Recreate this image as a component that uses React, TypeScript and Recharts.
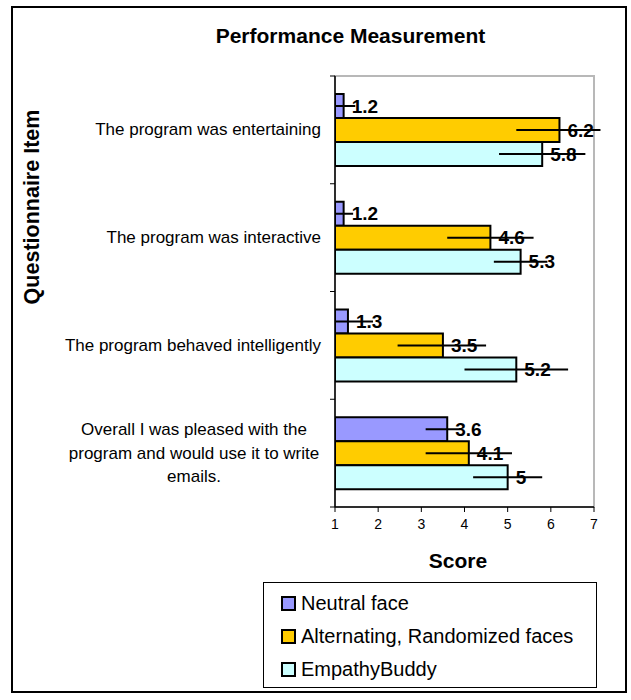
import { BarChart, Bar, XAxis, YAxis, ErrorBar, LabelList, ReferenceArea, Label } from 'recharts';

const FONT = "'Liberation Sans', Arial, sans-serif";

// categories, top to bottom
const categories = [
  'The program was entertaining',
  'The program was interactive',
  'The program behaved intelligently',
  'Overall I was pleased with the program and would use it to write emails.',
];
const categoryLines = [
  ['The program was entertaining'],
  ['The program was interactive'],
  ['The program behaved intelligently'],
  ['Overall I was pleased with the', 'program and would use it to write', 'emails.'],
];

const neutralFace = [1.2, 1.2, 1.3, 3.6];
const alternatingFaces = [6.2, 4.6, 3.5, 4.1];
const empathyBuddy = [5.8, 5.3, 5.2, 5];

// [minus, plus]
const neutralErr = [[0.2, 0.27], [0.2, 0.22], [0.3, 0.58], [0.5, 0.3]];
const alternatingErr = [[1, 0.95], [1, 1], [1.05, 1], [1, 1]];
const empathyErr = [[1, 1], [0.62, 0.62], [1.2, 1.2], [0.8, 0.8]];

const xTicks = [1, 2, 3, 4, 5, 6, 7];

const seriesNames = ['Neutral face', 'Alternating, Randomized faces', 'EmpathyBuddy'];
const seriesColors = ['#9999FF', '#FFCC00', '#CCFFFF'];

const data = categories.map((name, i) => ({
  name,
  neutral: neutralFace[i],
  neutralErr: neutralErr[i],
  alternating: alternatingFaces[i],
  alternatingErr: alternatingErr[i],
  empathy: empathyBuddy[i],
  empathyErr: empathyErr[i],
}));

const W = 631;
const H = 700;
const margin = { top: 76, right: 37, bottom: 163, left: 0 };
const Y_AXIS_W = 335;
const X_AXIS_H = 30;
const bandSize = (H - margin.top - margin.bottom - X_AXIS_H) / categories.length;

const CategoryTick = (props: any) => {
  const { x, y, index } = props;
  const lines = categoryLines[index] || [props.payload.value];
  const axisX = margin.left + Y_AXIS_W;
  const lineH = 23.3;
  return (
    <g>
      <line x1={axisX - 5} x2={axisX} y1={y - bandSize / 2} y2={y - bandSize / 2} stroke="#000" strokeWidth={1} />
      {index === categories.length - 1 && (
        <line x1={axisX - 5} x2={axisX} y1={y + bandSize / 2} y2={y + bandSize / 2} stroke="#000" strokeWidth={1} />
      )}
      {lines.length === 1 ? (
        <text x={x} y={y} textAnchor="end" dominantBaseline="central" fontSize={17} fontFamily={FONT} fill="#000">
          {lines[0]}
        </text>
      ) : (
        lines.map((l: string, k: number) => (
          <text
            key={k}
            x={x - 127}
            y={y + (k - (lines.length - 1) / 2) * lineH}
            textAnchor="middle"
            dominantBaseline="central"
            fontSize={17}
            fontFamily={FONT}
            fill="#000"
          >
            {l}
          </text>
        ))
      )}
    </g>
  );
};

const labelStyle = { fontSize: 19, fontWeight: 'bold', fontFamily: FONT, fill: '#000' };

export default function App() {
  return (
    <div style={{ position: 'absolute', left: 0, top: 0, width: W, height: H, background: '#fff', fontFamily: FONT }}>
      <div
        style={{
          position: 'absolute',
          left: 11,
          top: 6,
          width: 616,
          height: 687,
          border: '2px solid #000',
          boxSizing: 'border-box',
        }}
      />
      <div
        style={{
          position: 'absolute',
          left: 0,
          width: 701,
          top: 24,
          textAlign: 'center',
          fontSize: 21,
          fontWeight: 'bold',
          lineHeight: '24px',
          color: '#000',
        }}
      >
        Performance Measurement
      </div>
      <div style={{ position: 'absolute', left: 0, top: 0 }}>
        <BarChart width={W} height={H} data={data} layout="vertical" margin={margin} barCategoryGap="16.7%" barGap={0}>
          <ReferenceArea x1={1} x2={7} fill="none" stroke="#b8b8b8" strokeWidth={2} ifOverflow="visible" />
          <XAxis
            type="number"
            domain={[1, 7]}
            ticks={xTicks}
            allowDataOverflow
            height={X_AXIS_H}
            axisLine={{ stroke: '#000', strokeWidth: 1.5 }}
            tickLine={{ stroke: '#000' }}
            tickSize={5}
            tickMargin={7}
            tick={{ fontSize: 14, fontFamily: FONT, fill: '#000' }}
          >
            <Label
              content={() => (
                <text x={458} y={560} textAnchor="middle" dominantBaseline="central" fontSize={21} fontWeight="bold" fontFamily={FONT} fill="#000">
                  Score
                </text>
              )}
            />
          </XAxis>
          <YAxis
            type="category"
            dataKey="name"
            width={Y_AXIS_W}
            axisLine={{ stroke: '#000', strokeWidth: 1.5 }}
            tickLine={false}
            tickSize={0}
            tickMargin={14}
            tick={<CategoryTick />}
            interval={0}
          >
            <Label
              content={() => (
                <text
                  x={32}
                  y={207}
                  transform="rotate(-90 32 207)"
                  textAnchor="middle"
                  dominantBaseline="central"
                  fontSize={21.5}
                  fontWeight="bold"
                  fontFamily={FONT}
                  fill="#000"
                >
                  Questionnaire Item
                </text>
              )}
            />
          </YAxis>
          <Bar dataKey="neutral" name={seriesNames[0]} fill={seriesColors[0]} stroke="#000" strokeWidth={2} isAnimationActive={false}>
            <LabelList dataKey="neutral" position="right" offset={8} style={labelStyle} />
            <ErrorBar dataKey="neutralErr" direction="x" width={0} stroke="#000" strokeWidth={2} isAnimationActive={false} />
          </Bar>
          <Bar dataKey="alternating" name={seriesNames[1]} fill={seriesColors[1]} stroke="#000" strokeWidth={2} isAnimationActive={false}>
            <LabelList dataKey="alternating" position="right" offset={8} style={labelStyle} />
            <ErrorBar dataKey="alternatingErr" direction="x" width={0} stroke="#000" strokeWidth={2} isAnimationActive={false} />
          </Bar>
          <Bar dataKey="empathy" name={seriesNames[2]} fill={seriesColors[2]} stroke="#000" strokeWidth={2} isAnimationActive={false}>
            <LabelList dataKey="empathy" position="right" offset={8} style={labelStyle} />
            <ErrorBar dataKey="empathyErr" direction="x" width={0} stroke="#000" strokeWidth={2} isAnimationActive={false} />
          </Bar>
        </BarChart>
      </div>
      <div
        style={{
          position: 'absolute',
          left: 263,
          top: 582,
          width: 334,
          height: 106,
          border: '1px solid #000',
          boxSizing: 'border-box',
          paddingTop: 4,
        }}
      >
        {seriesNames.map((n, i) => (
          <div key={n} style={{ display: 'flex', alignItems: 'center', height: 33, paddingLeft: 17 }}>
            <span
              style={{
                display: 'inline-block',
                width: 15,
                height: 15,
                boxSizing: 'border-box',
                background: seriesColors[i],
                border: '2px solid #000',
                marginRight: 5,
              }}
            />
            <span style={{ fontSize: 20, color: '#000', whiteSpace: 'nowrap' }}>{n}</span>
          </div>
        ))}
      </div>
    </div>
  );
}
